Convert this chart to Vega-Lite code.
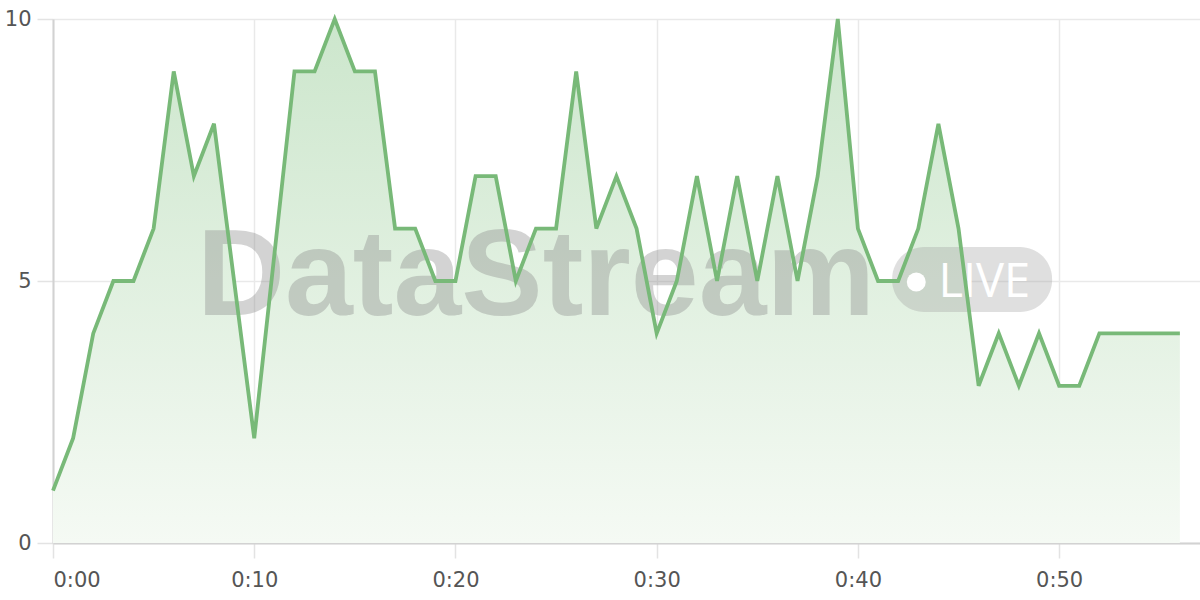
{
  "$schema": "https://vega.github.io/schema/vega-lite/v6.json",
  "width": 1147,
  "height": 524,
  "autosize": {"type": "none"},
  "padding": {"left": 53, "top": 19, "right": 0, "bottom": 57},
  "background": "white",
  "config": {
    "view": {"stroke": null},
    "font": "DejaVu Sans",
    "axis": {
      "labelFont": "DejaVu Sans",
      "labelFontSize": 21,
      "labelColor": "#555555",
      "gridColor": "#e9e9e9",
      "gridWidth": 1.5,
      "tickColor": "#e3e3e3",
      "tickWidth": 1.5,
      "domainColor": "#d2d2d2",
      "domainWidth": 2,
      "title": null
    }
  },
  "datasets": {
    "series": [
      {"m": 0, "v": 1}, {"m": 1, "v": 2}, {"m": 2, "v": 4}, {"m": 3, "v": 5},
      {"m": 4, "v": 5}, {"m": 5, "v": 6}, {"m": 6, "v": 9}, {"m": 7, "v": 7},
      {"m": 8, "v": 8}, {"m": 9, "v": 5}, {"m": 10, "v": 2}, {"m": 11, "v": 5.5},
      {"m": 12, "v": 9}, {"m": 13, "v": 9}, {"m": 14, "v": 10}, {"m": 15, "v": 9},
      {"m": 16, "v": 9}, {"m": 17, "v": 6}, {"m": 18, "v": 6}, {"m": 19, "v": 5},
      {"m": 20, "v": 5}, {"m": 21, "v": 7}, {"m": 22, "v": 7}, {"m": 23, "v": 5},
      {"m": 24, "v": 6}, {"m": 25, "v": 6}, {"m": 26, "v": 9}, {"m": 27, "v": 6},
      {"m": 28, "v": 7}, {"m": 29, "v": 6}, {"m": 30, "v": 4}, {"m": 31, "v": 5},
      {"m": 32, "v": 7}, {"m": 33, "v": 5}, {"m": 34, "v": 7}, {"m": 35, "v": 5},
      {"m": 36, "v": 7}, {"m": 37, "v": 5}, {"m": 38, "v": 7}, {"m": 39, "v": 10},
      {"m": 40, "v": 6}, {"m": 41, "v": 5}, {"m": 42, "v": 5}, {"m": 43, "v": 6},
      {"m": 44, "v": 8}, {"m": 45, "v": 6}, {"m": 46, "v": 3}, {"m": 47, "v": 4},
      {"m": 48, "v": 3}, {"m": 49, "v": 4}, {"m": 50, "v": 3}, {"m": 51, "v": 3},
      {"m": 52, "v": 4}, {"m": 53, "v": 4}, {"m": 54, "v": 4}, {"m": 55, "v": 4},
      {"m": 56, "v": 4}
    ],
    "watermark": [
      {"label": "DataStream", "badge": "LIVE"}
    ]
  },
  "layer": [
    {
      "data": {"name": "series"},
      "mark": {
        "type": "area",
        "color": {
          "gradient": "linear",
          "x1": 0, "y1": 0, "x2": 0, "y2": 1,
          "stops": [
            {"offset": 0, "color": "#cce6cc"},
            {"offset": 1, "color": "#f5faf4"}
          ]
        }
      },
      "encoding": {
        "x": {
          "field": "m",
          "type": "quantitative",
          "scale": {"domain": [0, 57], "nice": false, "zero": false},
          "axis": {
            "values": [0, 10, 20, 30, 40, 50],
            "labelExpr": "'0:' + (datum.value < 10 ? '0' : '') + datum.value",
            "tickSize": 15,
            "labelPadding": 11,
            "grid": true,
            "domain": true
          }
        },
        "y": {
          "field": "v",
          "type": "quantitative",
          "scale": {"domain": [0, 10], "nice": false},
          "axis": {
            "values": [0, 5, 10],
            "tickSize": 16,
            "labelPadding": 6,
            "grid": true,
            "domain": true
          }
        }
      }
    },
    {
      "data": {"name": "watermark"},
      "mark": {
        "type": "text",
        "font": "Liberation Sans",
        "fontWeight": "bold",
        "fontSize": 122,
        "align": "center",
        "baseline": "alphabetic",
        "color": "#888888",
        "opacity": 0.36,
        "letterSpacing": -3
      },
      "encoding": {
        "text": {"field": "label"},
        "x": {"datum": 24},
        "y": {"datum": 4.35}
      }
    },
    {
      "data": {"name": "watermark"},
      "mark": {
        "type": "rect",
        "color": "#9a9a9a",
        "opacity": 0.32,
        "cornerRadius": 32
      },
      "encoding": {
        "x": {"datum": 41.7},
        "x2": {"datum": 49.65},
        "y": {"datum": 5.65},
        "y2": {"datum": 4.41}
      }
    },
    {
      "data": {"name": "watermark"},
      "mark": {
        "type": "point",
        "shape": "circle",
        "filled": true,
        "color": "#ffffff",
        "opacity": 1,
        "size": 360
      },
      "encoding": {
        "x": {"datum": 42.9},
        "y": {"datum": 4.98}
      }
    },
    {
      "data": {"name": "watermark"},
      "mark": {
        "type": "text",
        "font": "Open Sans",
        "fontSize": 47,
        "align": "left",
        "baseline": "alphabetic",
        "color": "#ffffff"
      },
      "encoding": {
        "text": {"field": "badge"},
        "x": {"datum": 44.0},
        "y": {"datum": 4.69}
      }
    },
    {
      "data": {"name": "series"},
      "mark": {
        "type": "line",
        "color": "#78b978",
        "strokeWidth": 3.8,
        "strokeJoin": "miter"
      },
      "encoding": {
        "x": {"field": "m", "type": "quantitative"},
        "y": {"field": "v", "type": "quantitative"}
      }
    }
  ]
}
